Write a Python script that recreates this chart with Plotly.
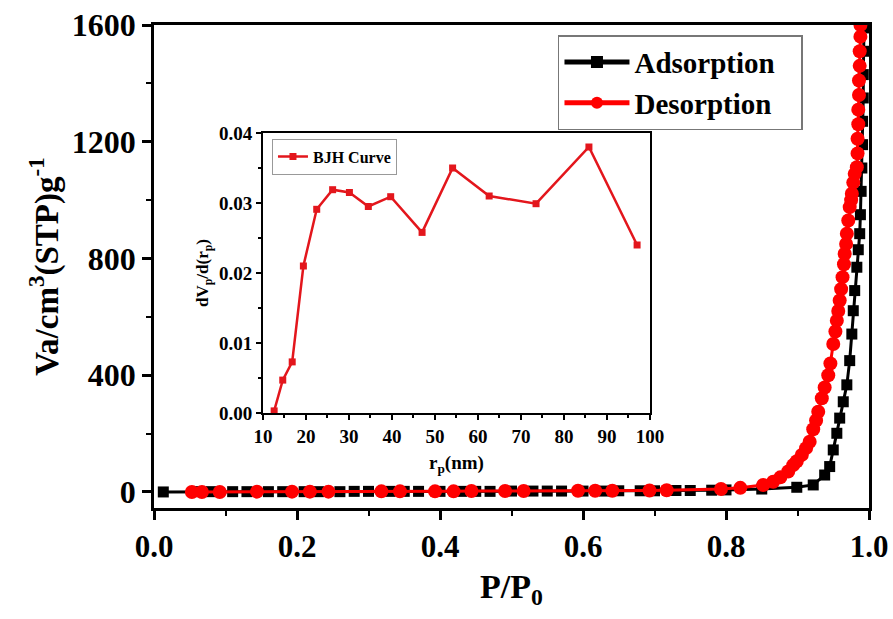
import plotly.graph_objects as go

# ---------------- data ----------------
ads_p = [0.013, 0.06, 0.08, 0.11, 0.13, 0.16, 0.18, 0.21, 0.23, 0.26, 0.28, 0.30, 0.33, 0.35,
         0.37, 0.40, 0.43, 0.45, 0.47, 0.50, 0.53, 0.55, 0.57, 0.60, 0.63, 0.65, 0.68, 0.70,
         0.73, 0.75, 0.78, 0.80, 0.85, 0.899, 0.922, 0.938, 0.945, 0.950, 0.955, 0.959, 0.964,
         0.969, 0.973, 0.976, 0.978, 0.980, 0.983, 0.985, 0.987, 0.988, 0.989, 0.990, 0.991,
         0.991, 0.992, 0.992, 0.993, 0.993]
ads_v = [0, 1, 1, 1, 1, 1, 1, 1, 1, 1, 2, 2, 2, 2,
         2, 2, 2, 2, 2, 3, 3, 3, 3, 3, 3, 4, 4, 4,
         5, 5, 6, 7, 10, 16, 24, 58, 87, 144, 201, 253, 309,
         367, 450, 541, 621, 690, 770, 830, 885, 950, 1030, 1110, 1190,
         1270, 1350, 1430, 1510, 1590]

des_p = [0.053, 0.067, 0.092, 0.144, 0.193, 0.218, 0.244, 0.318, 0.344, 0.393, 0.419, 0.444,
         0.491, 0.517, 0.593, 0.617, 0.641, 0.693, 0.717, 0.793, 0.820, 0.852, 0.866, 0.876,
         0.887, 0.894, 0.899, 0.906, 0.912, 0.917, 0.922, 0.926, 0.929, 0.934, 0.938, 0.943,
         0.946, 0.950, 0.953, 0.955, 0.957, 0.959, 0.961, 0.963, 0.965, 0.966, 0.968, 0.969,
         0.971, 0.973, 0.975, 0.976, 0.978, 0.980, 0.983, 0.984, 0.984, 0.985, 0.985, 0.986,
         0.986, 0.987, 0.987, 0.988, 0.988]
des_v = [0, 0, 0, 1, 1, 1, 1, 2, 2, 2, 2, 3,
         3, 3, 4, 4, 4, 5, 6, 10, 14, 24, 35, 50,
         70, 92, 105, 127, 150, 172, 215, 245, 275, 321, 358, 400,
         440, 507, 550, 587, 620, 656, 695, 736, 780, 816, 850, 885,
         930, 976, 1000, 1022, 1060, 1090, 1113, 1160, 1210, 1260, 1310, 1360,
         1410, 1460, 1510, 1560, 1600]

bjh_r = [12.6, 14.6, 16.8, 19.4, 22.5, 26.2, 30.1, 34.5, 39.7, 47.0, 54.1, 62.6, 73.5, 85.8, 97.0]
bjh_dv = [0.0003, 0.0047, 0.0073, 0.0210, 0.0291, 0.0319, 0.0315, 0.0295, 0.0309, 0.0258,
          0.0350, 0.0310, 0.0299, 0.0380, 0.0240]

main_xticks = [0.0, 0.2, 0.4, 0.6, 0.8, 1.0]
main_xlabels = ["0.0", "0.2", "0.4", "0.6", "0.8", "1.0"]
main_yticks = [0, 400, 800, 1200, 1600]
inset_xticks = [10, 20, 30, 40, 50, 60, 70, 80, 90, 100]
inset_yticks = [0.00, 0.01, 0.02, 0.03, 0.04]
inset_ylabels = ["0.00", "0.01", "0.02", "0.03", "0.04"]

FONT = "Liberation Serif"
PAD = "\u00a0\u00a0\u00a0"

fig = go.Figure()
fig.add_trace(go.Scatter(
    x=ads_p, y=ads_v, name="<b>Adsorption</b>" + PAD, mode="lines+markers",
    line=dict(color="black", width=3),
    marker=dict(symbol="square", size=11, color="black"),
    xaxis="x", yaxis="y", legend="legend"))
fig.add_trace(go.Scatter(
    x=des_p, y=des_v, name="<b>Desorption</b>" + PAD, mode="lines+markers",
    line=dict(color="#ff0000", width=3),
    marker=dict(symbol="circle", size=14, color="#ff0000"),
    xaxis="x", yaxis="y", legend="legend"))
fig.add_trace(go.Scatter(
    x=bjh_r, y=bjh_dv, name="<b>BJH Curve</b>", mode="lines+markers",
    line=dict(color="#e3161c", width=2.5),
    marker=dict(symbol="square", size=7, color="#e3161c"),
    xaxis="x2", yaxis="y2", legend="legend2"))

axis_common = dict(showline=True, linecolor="black", mirror=True, ticks="outside",
                   tickcolor="black", showgrid=False, zeroline=False, automargin=False)

fig.update_layout(
    width=893, height=619,
    margin=dict(l=154, r=24, t=25, b=111),
    paper_bgcolor="white", plot_bgcolor="white",
    font=dict(family=FONT, color="black"),
    xaxis=dict(
        **axis_common, range=[0, 1.0], linewidth=2.5, ticklen=9, tickwidth=2.5,
        tickvals=main_xticks, ticktext=[f"<b>{t}</b>" for t in main_xlabels],
        tickfont=dict(size=31, family=FONT),
        minor=dict(dtick=0.1, ticks="outside", ticklen=5, tickwidth=2, tickcolor="black"),
        title=dict(text="<b>P/P<sub>0</sub></b>", font=dict(size=34, family=FONT), standoff=12),
        domain=[0, 1]),
    yaxis=dict(
        **axis_common, range=[-55, 1600], linewidth=2.5, ticklen=9, tickwidth=2.5,
        tickvals=main_yticks, ticktext=[f"<b>{t}</b>" for t in main_yticks],
        tickfont=dict(size=32, family=FONT),
        minor=dict(dtick=200, ticks="outside", ticklen=5, tickwidth=2, tickcolor="black"),
        title=dict(text="<b>Va/cm<sup>3</sup>(STP)g<sup>-1</sup></b>",
                   font=dict(size=33, family=FONT), standoff=4),
        domain=[0, 1]),
    xaxis2=dict(
        **axis_common, range=[10, 100], linewidth=2, ticklen=5, tickwidth=2,
        tickvals=inset_xticks, ticktext=[f"<b>{t}</b>" for t in inset_xticks],
        tickfont=dict(size=19, family=FONT),
        minor=dict(dtick=5, ticks="outside", ticklen=3, tickwidth=1.5, tickcolor="black"),
        title=dict(text="<b>r<sub>p</sub>(nm)</b>", font=dict(size=19, family=FONT), standoff=10),
        domain=[0.1524, 0.6937], anchor="y2"),
    yaxis2=dict(
        **axis_common, range=[0, 0.04], linewidth=2, ticklen=5, tickwidth=2,
        tickvals=inset_yticks, ticktext=[f"<b>{t}</b>" for t in inset_ylabels],
        tickfont=dict(size=19, family=FONT),
        minor=dict(dtick=0.005, ticks="outside", ticklen=3, tickwidth=1.5, tickcolor="black"),
        title=dict(text="<b>dV<sub>p</sub>/d(r<sub>p</sub>)</b>", font=dict(size=17, family=FONT), standoff=6),
        domain=[0.1967, 0.7764], anchor="x2"),
    legend=dict(
        x=0.565, y=0.979, xanchor="left", yanchor="top",
        bgcolor="white", bordercolor="#777777", borderwidth=1.5,
        font=dict(size=29, family=FONT, color="black"),
        tracegroupgap=0, itemsizing="constant", itemwidth=65),
    legend2=dict(
        x=0.165, y=0.765, xanchor="left", yanchor="top",
        bgcolor="white", bordercolor="#999999", borderwidth=1,
        font=dict(size=16, family=FONT, color="black")),
    showlegend=True,
)

fig.write_html("out.html", post_script="document.body.style.margin='0px';",
               config={"displayModeBar": False})
